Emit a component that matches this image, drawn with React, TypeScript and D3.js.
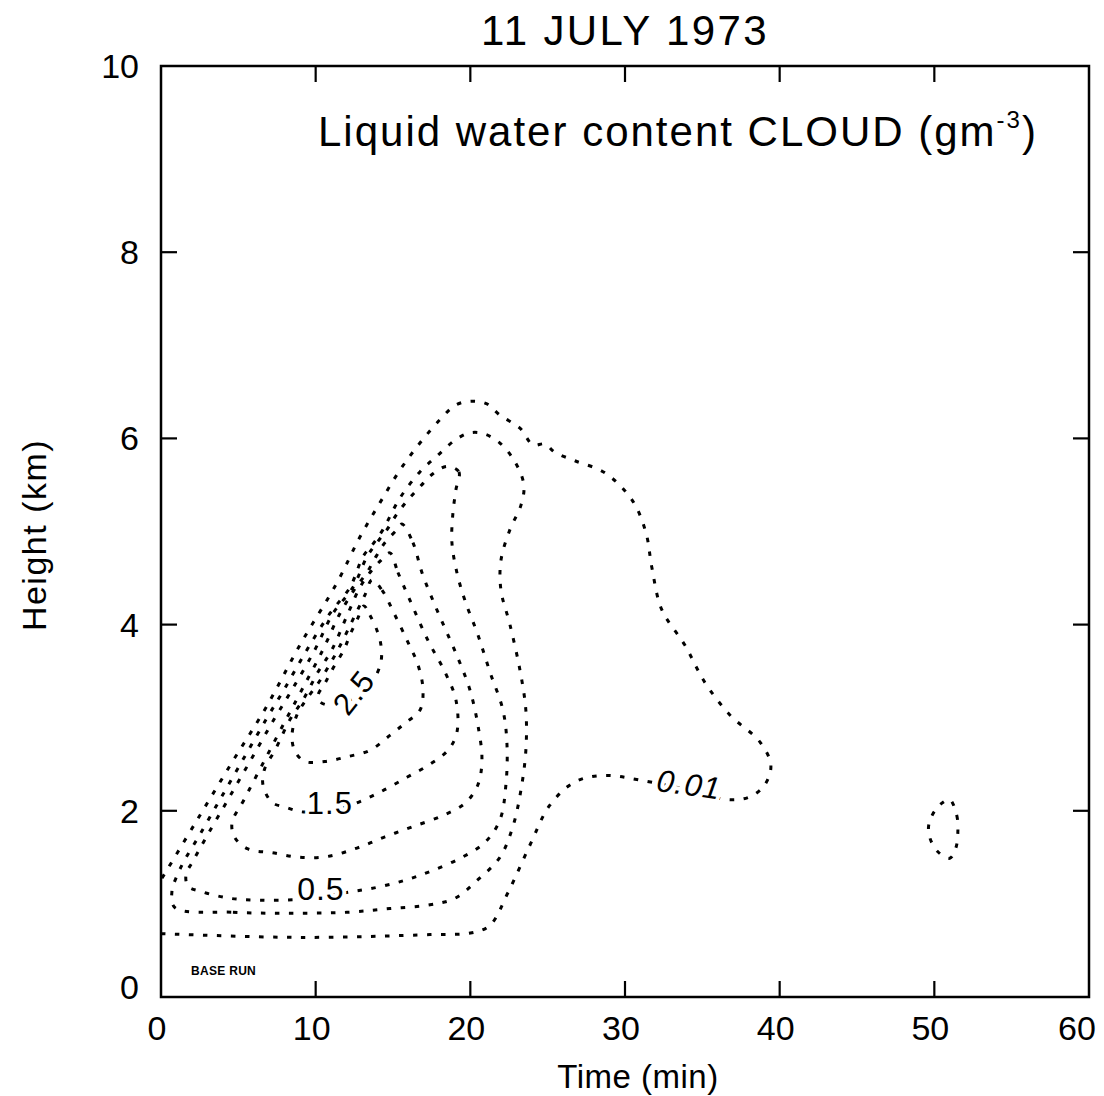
import React from "react";
import * as d3 from "d3";

type Pt = [number, number]; // [time (min), height (km)]

const xTicks = [0, 10, 20, 30, 40, 50, 60];
const yTicks = [0, 2, 4, 6, 8, 10];

// 0.01 g m^-3 contour (open at the left axis)
const contour001: Pt[] = [
  [0, 0.68], [8.98, 0.64], [17.39, 0.67], [20.1, 0.69], [21.27, 0.77], [22.43, 1.12], [23.85, 1.63],
  [25.14, 2.06], [26.76, 2.31], [28.7, 2.38], [30.96, 2.33], [34.19, 2.22], [36.65, 2.12], [38.07, 2.15],
  [39.04, 2.28], [39.43, 2.49], [38.72, 2.74], [36.78, 3.03], [35.16, 3.38], [33.87, 3.78], [32.38, 4.16],
  [31.74, 4.61], [31.35, 4.99], [30.45, 5.34], [28.7, 5.63], [26.76, 5.76], [25.47, 5.85], [24.82, 5.94],
  [24.05, 5.93], [23.21, 6.11], [21.91, 6.25], [21.07, 6.37], [20.1, 6.4], [19.07, 6.36], [18.03, 6.2],
  [16.74, 5.95], [15.45, 5.66], [14.16, 5.31], [12.86, 4.94], [11.38, 4.45], [8.98, 3.78], [6.79, 3.11],
  [4.59, 2.52], [2.33, 1.9], [0.26, 1.33], [0, 1.26],
];

const contour01: Pt[] = [
  [0.9, 0.96], [4.65, 0.91], [8.34, 0.9], [12.02, 0.91], [14.8, 0.95], [17.39, 0.99], [19.0, 1.06],
  [20.49, 1.26], [21.91, 1.5], [22.75, 1.83], [23.27, 2.22], [23.59, 2.65], [23.59, 3.08], [23.21, 3.51],
  [22.56, 4.0], [21.98, 4.37], [21.98, 4.69], [22.56, 5.02], [23.27, 5.28], [23.46, 5.5], [22.88, 5.75],
  [21.91, 5.95], [20.88, 6.05], [19.97, 6.06], [19.0, 5.98], [17.91, 5.82], [16.74, 5.64], [15.45, 5.36],
  [14.35, 5.02], [13.77, 4.88], [13.06, 4.73], [12.22, 4.4], [10.92, 4.12], [9.44, 3.73], [7.95, 3.3],
  [6.79, 2.98], [5.3, 2.55], [3.81, 2.12], [2.46, 1.73], [1.49, 1.46], [1.03, 1.3], [0.71, 1.14],
];

const contour05: Pt[] = [
  [18.49, 5.7], [19.26, 5.64], [19.07, 5.45], [18.87, 5.19], [18.81, 4.88], [19.13, 4.56], [19.65, 4.26],
  [20.49, 3.89], [21.27, 3.49], [22.11, 3.08], [22.37, 2.71], [22.3, 2.28], [21.91, 1.9], [20.94, 1.66],
  [19.46, 1.5], [17.58, 1.36], [15.9, 1.26], [14.03, 1.18], [11.89, 1.12], [8.98, 1.05], [6.4, 1.04],
  [4.46, 1.06], [2.65, 1.13], [1.75, 1.19], [1.62, 1.32], [2.07, 1.46], [2.97, 1.73], [4.33, 2.12],
  [5.82, 2.55], [7.3, 2.98], [8.47, 3.3], [9.95, 3.73], [11.12, 4.12], [12.41, 4.4], [13.32, 4.73],
  [13.96, 4.88], [14.61, 5.02], [15.26, 5.19], [15.97, 5.34], [16.74, 5.48], [17.58, 5.62],
];

const contour10: Pt[] = [
  [15.58, 5.08], [16.29, 4.88], [16.87, 4.56], [17.58, 4.26], [18.36, 3.96], [19.2, 3.64], [19.97, 3.3],
  [20.49, 2.92], [20.75, 2.55], [20.49, 2.28], [19.65, 2.08], [18.23, 1.95], [16.29, 1.83], [14.48, 1.72],
  [12.67, 1.6], [10.79, 1.51], [8.98, 1.5], [7.18, 1.55], [5.62, 1.59], [4.78, 1.71], [4.59, 1.87],
  [5.37, 2.12], [6.72, 2.55], [8.08, 2.98], [9.11, 3.3], [10.47, 3.73], [11.57, 4.12], [12.6, 4.4],
  [13.32, 4.56], [13.9, 4.73], [14.48, 4.88], [15.26, 5.02],
];

const contour15: Pt[] = [
  [14.8, 4.77], [15.32, 4.56], [16.1, 4.26], [17.26, 3.83], [18.36, 3.49], [19.07, 3.19], [19.13, 2.84],
  [18.55, 2.65], [17.39, 2.5], [15.9, 2.36], [14.03, 2.19], [12.22, 2.06], [10.6, 2.01], [9.11, 1.99],
  [8.02, 2.04], [7.18, 2.09], [6.59, 2.28], [6.72, 2.46], [7.37, 2.65], [8.34, 2.98], [9.18, 3.19],
  [10.15, 3.49], [11.05, 3.73], [12.09, 4.12], [12.86, 4.4], [13.51, 4.56], [14.22, 4.69],
];

const contour20: Pt[] = [
  [13.64, 4.48], [14.29, 4.37], [15.13, 4.1], [15.97, 3.81], [16.61, 3.57], [16.94, 3.3], [16.74, 3.08],
  [15.77, 2.94], [14.8, 2.81], [13.51, 2.65], [12.02, 2.58], [10.6, 2.53], [9.31, 2.53], [8.66, 2.64],
  [8.47, 2.81], [8.79, 3.03], [9.37, 3.19], [10.28, 3.4], [11.44, 3.73], [12.6, 4.12], [13.19, 4.32],
];

const contour25: Pt[] = [
  [13.12, 4.2], [13.51, 4.1], [13.96, 3.94], [14.22, 3.78], [14.22, 3.6], [13.64, 3.38], [12.54, 3.22],
  [11.25, 3.13], [10.28, 3.17], [10.15, 3.24], [10.6, 3.37], [11.12, 3.53], [11.83, 3.73], [12.22, 3.89],
  [12.73, 4.07],
];

// small isolated cell near 51 min
const contourCell: Pt[] = [
  [51.0, 2.12], [51.45, 1.95], [51.52, 1.77], [51.39, 1.6], [51.0, 1.49], [50.23, 1.56], [49.71, 1.71],
  [49.64, 1.85], [50.03, 2.0], [50.55, 2.09],
];

const contours = [
  { level: 0.01, closed: false, pts: contour001 },
  { level: 0.1, closed: true, pts: contour01 },
  { level: 0.5, closed: true, pts: contour05 },
  { level: 1.0, closed: true, pts: contour10 },
  { level: 1.5, closed: true, pts: contour15 },
  { level: 2.0, closed: true, pts: contour20 },
  { level: 2.5, closed: true, pts: contour25 },
  { level: 0.01, closed: true, pts: contourCell },
];

const contourLabels = [
  { text: "0.01", t: 34.13, h: 2.28, angle: 8, italic: true, size: 31 },
  { text: "0.5", t: 10.34, h: 1.16, angle: 0, italic: false, size: 32 },
  { text: "1.5", t: 10.92, h: 2.08, angle: 0, italic: false, size: 31 },
  { text: "2.5", t: 12.48, h: 3.27, angle: -52, italic: false, size: 31 },
];

const W = 1104;
const H = 1096;
const L = 161, R = 1089, T = 66, B = 997;
const FONT = "'Liberation Sans', Arial, Helvetica, sans-serif";

export default function App() {
  const x = d3.scaleLinear().domain([0, 60]).range([L, R]);
  const y = d3.scaleLinear().domain([0, 10]).range([B, T]);
  const openLine = d3
    .line<Pt>()
    .x((d) => x(d[0]))
    .y((d) => y(d[1]))
    .curve(d3.curveCatmullRom.alpha(0.5));
  const closedLine = d3
    .line<Pt>()
    .x((d) => x(d[0]))
    .y((d) => y(d[1]))
    .curve(d3.curveCatmullRomClosed.alpha(0.5));
  const tickLen = 16;

  return (
    <svg
      width={W}
      height={H}
      viewBox={`0 0 ${W} ${H}`}
      style={{ position: "absolute", left: 0, top: 0, background: "#fff" }}
      fontFamily={FONT}
    >
      <rect x={0} y={0} width={W} height={H} fill="#fff" />

      {/* contours */}
      <g fill="none" stroke="#000" strokeWidth={3} strokeDasharray="4.5 9.5">
        {contours.map((c, i) => (
          <path key={i} d={(c.closed ? closedLine : openLine)(c.pts) || ""} />
        ))}
      </g>

      {/* contour labels */}
      {contourLabels.map((l, i) => (
        <text
          key={i}
          x={x(l.t)}
          y={y(l.h)}
          transform={`rotate(${l.angle} ${x(l.t)} ${y(l.h)})`}
          textAnchor="middle"
          dominantBaseline="central"
          fontSize={l.size}
          fontStyle={l.italic ? "italic" : "normal"}
          fill="#000"
          stroke="#fff"
          strokeWidth={8}
          style={{ paintOrder: "stroke" }}
          letterSpacing={1}
        >
          {l.text}
        </text>
      ))}

      {/* frame */}
      <rect x={L} y={T} width={R - L} height={B - T} fill="none" stroke="#000" strokeWidth={2.5} />

      {/* ticks */}
      <g stroke="#000" strokeWidth={2.2}>
        {xTicks.slice(1, -1).map((t) => (
          <g key={"xt" + t}>
            <line x1={x(t)} x2={x(t)} y1={B} y2={B - tickLen} />
            <line x1={x(t)} x2={x(t)} y1={T} y2={T + tickLen} />
          </g>
        ))}
        {yTicks.slice(1, -1).map((v) => (
          <g key={"yt" + v}>
            <line x1={L} x2={L + tickLen} y1={y(v)} y2={y(v)} />
            <line x1={R} x2={R - tickLen} y1={y(v)} y2={y(v)} />
          </g>
        ))}
      </g>

      {/* tick labels */}
      <g fontSize={34} fill="#000">
        {xTicks.map((t, i) => (
          <text
            key={"xl" + t}
            x={x(t) + (i === xTicks.length - 1 ? -12 : -4)}
            y={B + 43}
            textAnchor="middle"
          >
            {t}
          </text>
        ))}
        {yTicks.map((v, i) => (
          <text
            key={"yl" + v}
            x={139}
            y={y(v) + 12 + (i === 0 ? -10 : 0)}
            textAnchor="end"
          >
            {v}
          </text>
        ))}
      </g>

      {/* axis titles */}
      <text x={638} y={1088} textAnchor="middle" fontSize={33} letterSpacing={0.5}>
        Time (min)
      </text>
      <text
        x={0}
        y={0}
        transform={`translate(46 535) rotate(-90)`}
        textAnchor="middle"
        fontSize={34}
        letterSpacing={1.5}
      >
        Height (km)
      </text>

      {/* titles */}
      <text x={625} y={45} textAnchor="middle" fontSize={42} letterSpacing={2.4}>
        11 JULY 1973
      </text>
      <text x={318} y={146} fontSize={42} letterSpacing={2}>
        Liquid water content CLOUD (gm
        <tspan fontSize={24} dy={-18}>-3</tspan>
        <tspan dy={18}>)</tspan>
      </text>

      <text x={191} y={975} fontSize={12} fontWeight="bold" letterSpacing={0.3}>
        BASE RUN
      </text>
    </svg>
  );
}
